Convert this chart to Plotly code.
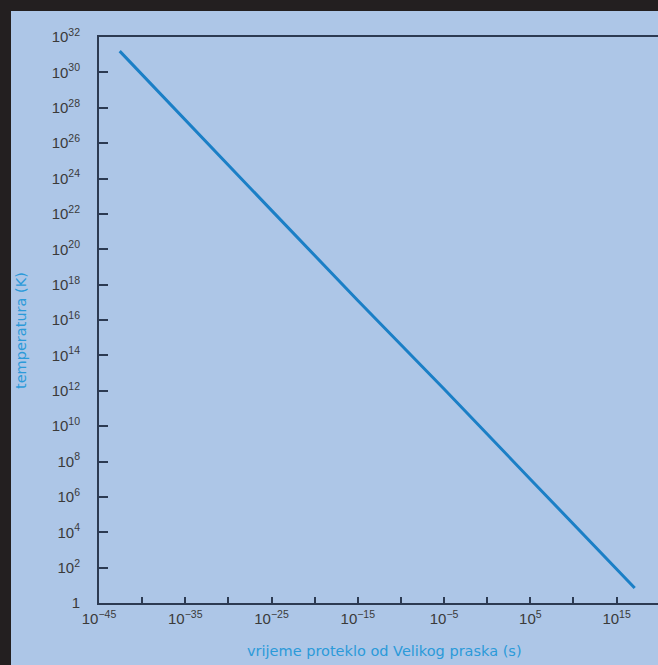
import plotly.graph_objects as go

# Data (log10 values)
time_exp = [-42.6, -35, -25, -15, -5, 5, 15, 17.1]          # log10(t / s)
temp_exp = [31.2, 27.3, 22.2, 17.1, 12.1, 7.0, 1.9, 0.85]   # log10(T / K)

y_tick_exps = list(range(0, 33, 2))
y_tick_text = ["1"] + [f"10<sup>{e}</sup>" for e in y_tick_exps[1:]]
x_label_exps = [-45, -35, -25, -15, -5, 5, 15]
x_label_text = [f"10<sup>{'−' if e < 0 else ''}{abs(e)}</sup>" for e in x_label_exps]
x_minor_exps = [-40, -30, -20, -10, 0, 10]

x_title = "vrijeme proteklo od Velikog praska (s)"
y_title = "temperatura (K)"

time_vals = [10.0 ** e for e in time_exp]
temp_vals = [10.0 ** e for e in temp_exp]

BG = "#adc6e7"
DARK = "#231f20"
AXIS = "#2c3a52"
TITLE = "#2b9ad9"
TITLE_FONT = dict(family="DejaVu Sans, sans-serif", size=14.5, color=TITLE)

# plot-area geometry in pixels
L, T, W, H = 99, 37, 559, 566

fig = go.Figure()
fig.add_trace(go.Scatter(x=time_vals, y=temp_vals, mode="lines",
                         line=dict(color="#1b7fc6", width=3), showlegend=False,
                         hoverinfo="skip"))

fig.update_layout(
    width=658, height=665,
    margin=dict(l=L, r=0, t=T, b=665 - T - H),
    paper_bgcolor=BG, plot_bgcolor=BG,
    font=dict(family="Liberation Sans, Arial, sans-serif", size=15, color="#3a3a3a"),
    xaxis=dict(type="log", range=[-45, 19.8],
               tickvals=[10.0 ** e for e in x_label_exps], ticktext=x_label_text,
               ticks="inside", ticklen=6, tickcolor=AXIS, tickwidth=1.5,
               minor=dict(tickvals=[10.0 ** e for e in x_minor_exps],
                          ticks="inside", ticklen=6, tickcolor=AXIS, tickwidth=1.5),
               showline=True, linecolor=AXIS, linewidth=2, mirror=True,
               showgrid=False, zeroline=False, ticklabelstandoff=1),
    yaxis=dict(type="log", range=[0, 32],
               tickvals=[10.0 ** e for e in y_tick_exps], ticktext=y_tick_text,
               ticks="inside", ticklen=9, tickcolor=AXIS, tickwidth=1.5,
               showline=True, linecolor=AXIS, linewidth=2,
               showgrid=False, zeroline=False, ticklabelstandoff=14),
    annotations=[
        dict(text=x_title, xref="paper", yref="paper",
             x=(384 - L) / W, y=(T + H - 651) / H, xanchor="center", yanchor="middle",
             showarrow=False, font=TITLE_FONT),
        dict(text=y_title, xref="paper", yref="paper", textangle=-90,
             x=(21 - L) / W, y=(T + H - 331) / H, xanchor="center", yanchor="middle",
             showarrow=False, font=TITLE_FONT),
    ],
    shapes=[
        dict(type="rect", xref="paper", yref="paper",
             x0=-L / W, x1=1.0, y0=(T + H - 11) / H, y1=(T + H) / H,
             fillcolor=DARK, line=dict(width=0), layer="above"),
        dict(type="rect", xref="paper", yref="paper",
             x0=-L / W, x1=(11 - L) / W, y0=-(665 - T - H) / H, y1=(T + H) / H,
             fillcolor=DARK, line=dict(width=0), layer="above"),
    ],
)

fig.write_html("out.html", config={"displayModeBar": False},
               post_script="document.body.style.margin='0';document.body.style.overflow='hidden';")
